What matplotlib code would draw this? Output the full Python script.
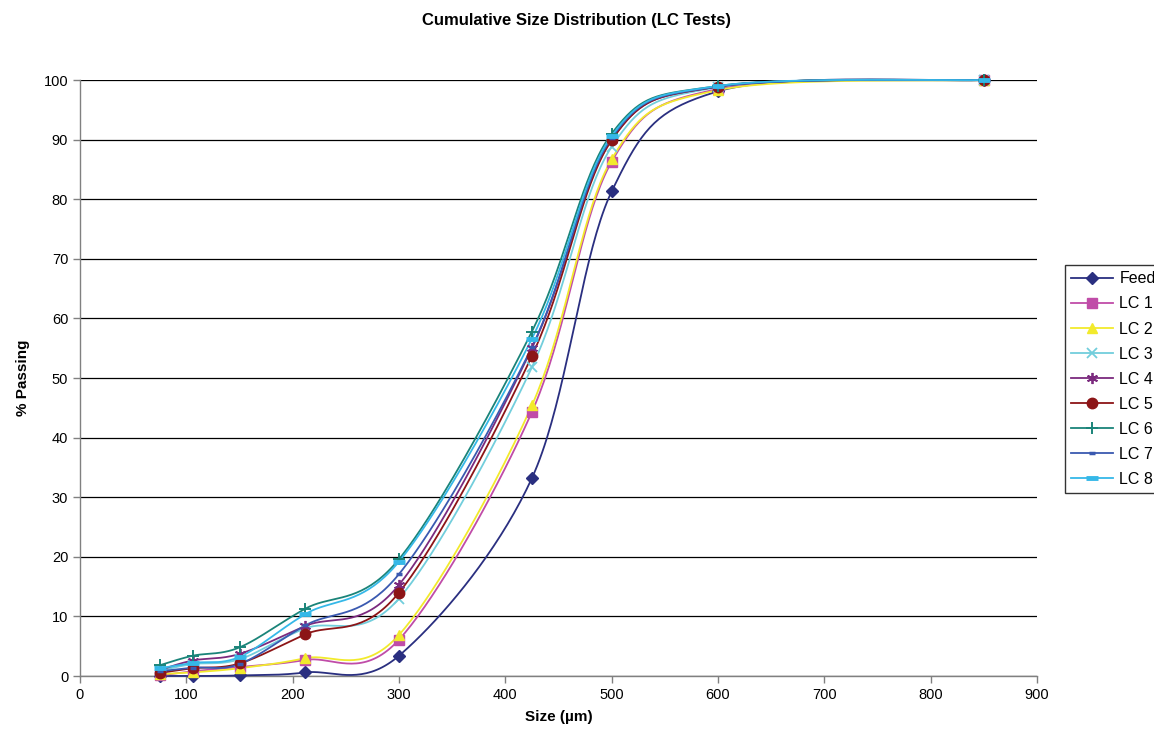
import numpy as np
import matplotlib
matplotlib.use("Agg")
import matplotlib.pyplot as plt
from matplotlib.lines import Line2D

# Sieve sizes (µm) and cumulative % passing for each test
sizes = [75, 106, 150, 212, 300, 425, 500, 600, 850]

feed = [0.0, 0.0, 0.1, 0.6, 3.4, 33.2, 81.3, 98.1, 100]
lc1 = [0.1, 0.8, 1.5, 2.7, 6.1, 44.3, 86.3, 98.5, 100]
lc2 = [0.3, 0.6, 1.3, 3.0, 6.9, 45.4, 86.7, 98.3, 100]
lc3 = [0.9, 2.0, 2.8, 8.0, 13.0, 51.8, 88.8, 98.8, 100]
lc4 = [1.0, 2.6, 3.7, 8.4, 15.3, 55.0, 90.0, 98.9, 100]
lc5 = [0.5, 1.3, 2.1, 7.0, 14.0, 53.7, 89.9, 98.9, 100]
lc6 = [1.8, 3.4, 4.8, 11.3, 19.6, 57.8, 91.0, 99.0, 100]
lc7 = [0.8, 1.4, 2.0, 8.5, 17.1, 55.2, 90.3, 98.9, 100]
lc8 = [1.3, 2.2, 3.2, 10.4, 19.2, 56.6, 90.6, 99.0, 100]

series_names = ["Feed", "LC 1", "LC 2", "LC 3", "LC 4", "LC 5", "LC 6", "LC 7", "LC 8"]
series_values = [feed, lc1, lc2, lc3, lc4, lc5, lc6, lc7, lc8]

colors = ["#2a2f80", "#c04ca8", "#f2ea2c", "#72cedc", "#7b2a7e",
          "#8c1517", "#1a8479", "#3a59b0", "#35b8e8"]
asterisk = (6, 2, 0)
markers = ["D", "s", "^", "x", asterisk, "o", "+", "_", "_"]
msizes = [6, 6.5, 7.5, 7, 8, 7.5, 9, 5, 8]
mews = [1, 1, 1, 1.3, 1.3, 1, 1.4, 2.5, 3.5]


def smooth(x, y, n=40):
    """Catmull-Rom style Bezier smoothing between consecutive points."""
    p = np.column_stack([x, y]).astype(float)
    p_ext = np.vstack([p[0], p, p[-1]])
    out = []
    t = np.linspace(0, 1, n)
    for i in range(1, len(p_ext) - 2):
        p0, p1, p2, p3 = p_ext[i - 1], p_ext[i], p_ext[i + 1], p_ext[i + 2]
        c1 = p1 + (p2 - p0) / 6.0
        c2 = p2 - (p3 - p1) / 6.0
        seg = ((1 - t) ** 3)[:, None] * p1 + (3 * (1 - t) ** 2 * t)[:, None] * c1 \
            + (3 * (1 - t) * t ** 2)[:, None] * c2 + (t ** 3)[:, None] * p2
        out.append(seg if i == 1 else seg[1:])
    s = np.vstack(out)
    return s[:, 0], s[:, 1]


plt.rcParams["font.family"] = ["Liberation Sans", "DejaVu Sans"]

fig = plt.figure(figsize=(11.54, 7.42), dpi=100)
ax = fig.add_axes([80 / 1154, 66 / 742, 957 / 1154, 596 / 742])

handles = []
for name, vals, col, mk, ms, mew in zip(series_names, series_values, colors, markers, msizes, mews):
    sx, sy = smooth(sizes, vals)
    ax.plot(sx, sy, color=col, lw=1.3, zorder=3, clip_on=False)
    ax.plot(sizes, vals, linestyle="none", marker=mk, markersize=ms,
            color=col, markeredgecolor=col, markeredgewidth=mew, zorder=4,
            clip_on=False)
    handles.append(Line2D([], [], color=col, lw=1.3, marker=mk, markersize=ms,
                          markeredgecolor=col, markeredgewidth=mew, label=name))

ax.set_xlim(0, 900)
ax.set_ylim(0, 100)
ax.set_xticks(np.arange(0, 901, 100))
ax.set_yticks(np.arange(0, 101, 10))
ax.yaxis.grid(True, color="black", lw=0.9)
ax.set_axisbelow(True)
for side in ["top", "right"]:
    ax.spines[side].set_visible(False)
for side in ["left", "bottom"]:
    ax.spines[side].set_color("#808080")
    ax.spines[side].set_linewidth(1.0)
ax.tick_params(axis="both", labelsize=10.5, direction="out", length=5,
               color="#808080", width=1.0)

ax.set_xlabel("Size (µm)", fontsize=11, fontweight="bold", labelpad=6)
ax.set_ylabel("% Passing", fontsize=11, fontweight="bold", labelpad=10)
fig.text(577 / 1154, 1 - 20 / 742, "Cumulative Size Distribution (LC Tests)",
         ha="center", va="center", fontsize=12, fontweight="bold")

leg = fig.legend(handles=handles, loc="upper left",
                 bbox_to_anchor=(1065 / 1154, 1 - 265 / 742),
                 frameon=True, fancybox=False, shadow=False, fontsize=11.5,
                 handlelength=2.6, handletextpad=0.4, borderpad=0.4,
                 labelspacing=0.63, borderaxespad=0)
leg.get_frame().set_edgecolor("black")
leg.get_frame().set_linewidth(1.0)

fig.savefig("out.png", dpi=100)
